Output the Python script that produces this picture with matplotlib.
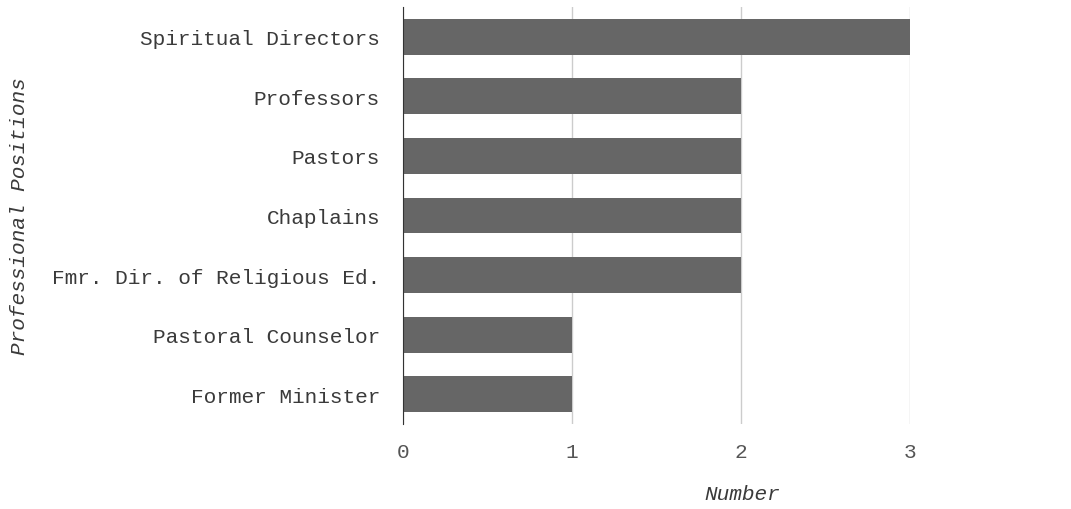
import matplotlib.pyplot as plt

# Daten
positionen = ['Spiritual Directors', 'Professors', 'Pastors', 'Chaplains',
              'Fmr. Dir. of Religious Ed.', 'Pastoral Counselor', 'Former Minister']
anzahl = [3, 2, 2, 2, 2, 1, 1]
x_ticks = [0, 1, 2, 3]

plt.rcParams['font.family'] = ['Liberation Mono', 'DejaVu Sans Mono']
FS = 15.2

fig = plt.figure(figsize=(10.71, 5.10), dpi=100)
ax = fig.add_axes([403 / 1071, 1 - 425 / 510, (910 - 403) / 1071, (425 - 8) / 510])

y = list(range(len(positionen)))
ax.barh(y, anzahl, height=0.6, color='#666666', zorder=3)

ax.set_xlim(0, 3)
ax.set_ylim(len(positionen) - 0.5, -0.5)
ax.set_yticks(y)
ax.set_yticklabels(positionen, fontsize=FS, color='#3a3a3a')
ax.set_xticks(x_ticks)
ax.set_xticklabels([str(t) for t in x_ticks], fontsize=FS, color='#555555')
ax.tick_params(axis='both', length=0)
ax.tick_params(axis='y', pad=16.5)
ax.tick_params(axis='x', pad=13)

ax.grid(axis='x', color='#cccccc', linewidth=1, zorder=0)
for s in ['top', 'right', 'bottom']:
    ax.spines[s].set_visible(False)
ax.spines['left'].set_color('#333333')
ax.spines['left'].set_zorder(4)

# Achsentitel
fig.text(742 / 1071, 1 - 495 / 510, 'Number', fontsize=FS, style='italic',
         color='#3a3a3a', ha='center', va='center')
ax.set_ylabel('Professional Positions', fontsize=FS, style='italic', color='#3a3a3a')
ax.yaxis.set_label_coords(-374 / 507, 0.5)

fig.savefig('out.png', dpi=100)
